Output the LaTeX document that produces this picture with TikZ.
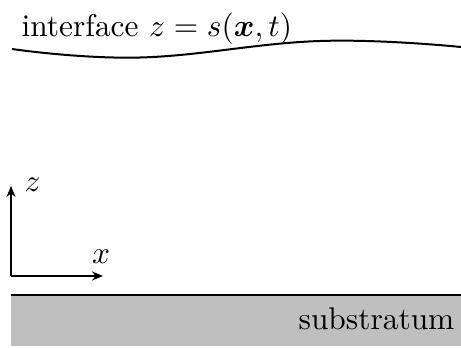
\documentclass[tikz,border=0pt]{standalone}
\usepackage{amsmath,amssymb}
\usetikzlibrary{positioning, arrows.meta}

\begin{document}
\begin{tikzpicture}[
        x=0.5pt, y=0.5pt,
        lab/.style={inner sep=0pt, scale=1.57},
        surfLine/.style={line width=1pt},
        axisLine/.style={line width=0.7pt, -{Stealth[length=5.5pt, width=4.5pt]}},
        subsFill/.style={fill=black!25, draw=none}
    ]
        \useasboundingbox (0,0) rectangle (461,348);

        % substrat
        \fill[subsFill] (11,2) rectangle (461,53);
        \coordinate (subsL) at (11,53);
        \coordinate (subsR) at (461,53);
        \draw[surfLine] (subsL) -- (subsR);
        \node[lab, anchor=base east] (subs) at (455,18) {substratum};

        % interface libre
        \draw[surfLine] plot[smooth, tension=0.7] coordinates {(12,299) (140,290.5) (320,307) (461,301)};
        \node[lab, anchor=base west] (iface) at (21,311) {interface $z=s(\boldsymbol{x},t)$};

        % axes
        \coordinate (orig) at (11,72);
        \coordinate (zTip) at (11,162);
        \coordinate (xTip) at (103,72);
        \draw[axisLine] (orig) -- (zTip);
        \draw[axisLine] (orig) -- (xTip);
        \node[lab, anchor=base west] (zLab) at (24,156) {$z$};
        \node[lab, anchor=base] (xLab) at (101,84) {$x$};
    \end{tikzpicture}
\end{document}
